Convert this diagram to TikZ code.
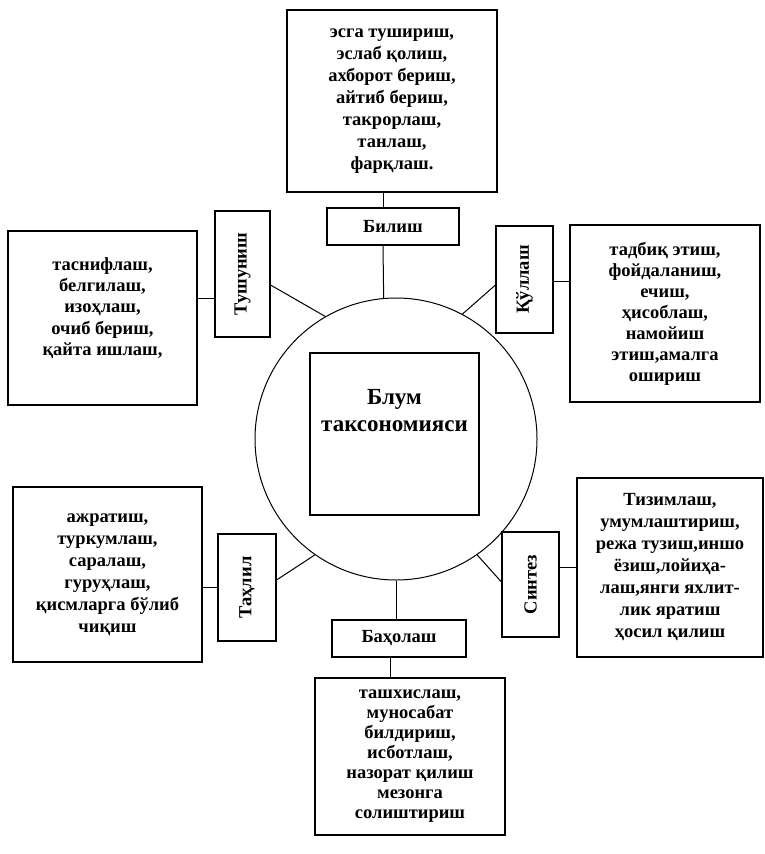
\documentclass[tikz,border=0pt]{standalone}
\usepackage{fontspec}
\usepackage{graphicx}
\setmainfont{Liberation Serif}
\begin{document}
\begin{tikzpicture}[x=1pt,y=-1pt,
  box/.style={draw, line width=1.1pt, align=center, inner sep=0pt,
    font=\bfseries\fontsize{18.5}{22}\selectfont},
  lab/.style={draw, line width=1.1pt, inner sep=0pt,
    font=\bfseries\fontsize{18.5}{22}\selectfont},
  conn/.style={line width=1pt}]
\useasboundingbox[fill=white] (0,0) rectangle (765,854);

% circle and centre
\node[draw, circle, line width=1pt, minimum size=282, inner sep=0pt] (circ) at (396,439) {};
\node[draw, line width=1.1pt, minimum width=169, minimum height=162, inner sep=0pt] (core) at (394.5,434) {};
\node[align=center, font=\bfseries\fontsize{23}{27}\selectfont] (coretxt) at (394.5,411) {Блум\\таксономияси};

% top
\node[box, minimum width=210, minimum height=182] (top) at (392,101)
  {эсга тушириш,\\эслаб қолиш,\\ахборот бериш,\\айтиб бериш,\\такрорлаш,\\танлаш,\\фарқлаш.};
\node[lab, minimum width=132, minimum height=37] (bil) at (393,226.5) {Билиш};

% left top
\node[box, minimum width=189, minimum height=174, font=\bfseries\fontsize{18.5}{21.3}\selectfont] (ltop) at (102.5,318)
  {таснифлаш,\\белгилаш,\\изоҳлаш,\\очиб бериш,\\қайта ишлаш,\\[2pt]};
\node[lab, minimum width=55, minimum height=126] (tush) at (242.5,274) {\rotatebox{90}{Тушуниш}};

% right top
\node[box, minimum width=190, minimum height=177, font=\bfseries\fontsize{18.5}{21}\selectfont] (rtop) at (665,313.5)
  {тадбиқ этиш,\\фойдаланиш,\\ечиш,\\ҳисоблаш,\\намойиш\\этиш,амалга\\ошириш};
\node[lab, minimum width=57, minimum height=107] (kul) at (524.5,279.5) {\rotatebox{90}{Қўллаш}};

% left bottom
\node[box, minimum width=189, minimum height=175] (lbot) at (107.5,574.5)
  {ажратиш,\\туркумлаш,\\саралаш,\\гуруҳлаш,\\қисмларга бўлиб\\чиқиш};
\node[lab, minimum width=58, minimum height=107] (tah) at (247,587.5) {\rotatebox{90}{Таҳлил}};

% right bottom
\node[box, minimum width=186, minimum height=179] (rbot) at (670,567.5)
  {Тизимлаш,\\умумлаштириш,\\режа тузиш,иншо\\ёзиш,лойиҳа-\\лаш,янги яхлит-\\лик яратиш\\ҳосил қилиш};
\node[lab, minimum width=57, minimum height=105] (sin) at (530.5,584.5) {\rotatebox{90}{Синтез}};

% bottom
\node[lab, minimum width=134, minimum height=37] (bah) at (399,638.5) {Баҳолаш};
\node[box, minimum width=190, minimum height=157, font=\bfseries\fontsize{18.5}{20}\selectfont] (bot) at (410,756.5)
  {ташхислаш,\\муносабат\\билдириш,\\исботлаш,\\назорат қилиш\\мезонга\\солиштириш};

% connectors
\draw[conn] ([xshift=-10pt]bil.north) -- ([xshift=-10pt]bil.north |- top.south);
\draw[conn] ([xshift=-10pt]bil.south) -- (circ.95);
\draw[conn] ([yshift=20pt]ltop.east) -- ([yshift=20pt]ltop.east -| tush.west);
\draw[conn] ([yshift=-11pt]tush.east) -- (circ.120);
\draw[conn] ([yshift=-5.5pt]kul.west) -- (circ.62);
\draw[conn] ([yshift=-1.5pt]kul.east) -- ([yshift=-1.5pt]kul.east -| rtop.west);
\draw[conn] (tah.west) -- (tah.west -| lbot.east);
\draw[conn] ([yshift=7.5pt]tah.east) -- (circ.235);
\draw[conn] ([yshift=2.5pt]sin.west) -- (circ.305);
\draw[conn] ([yshift=17.5pt]sin.east) -- ([yshift=17.5pt]sin.east -| rbot.west);
\draw[conn] (circ.south) -- (circ.south |- bah.north);
\draw[conn] ([xshift=-9pt]bah.south) -- ([xshift=-9pt]bah.south |- bot.north);
\end{tikzpicture}
\end{document}
